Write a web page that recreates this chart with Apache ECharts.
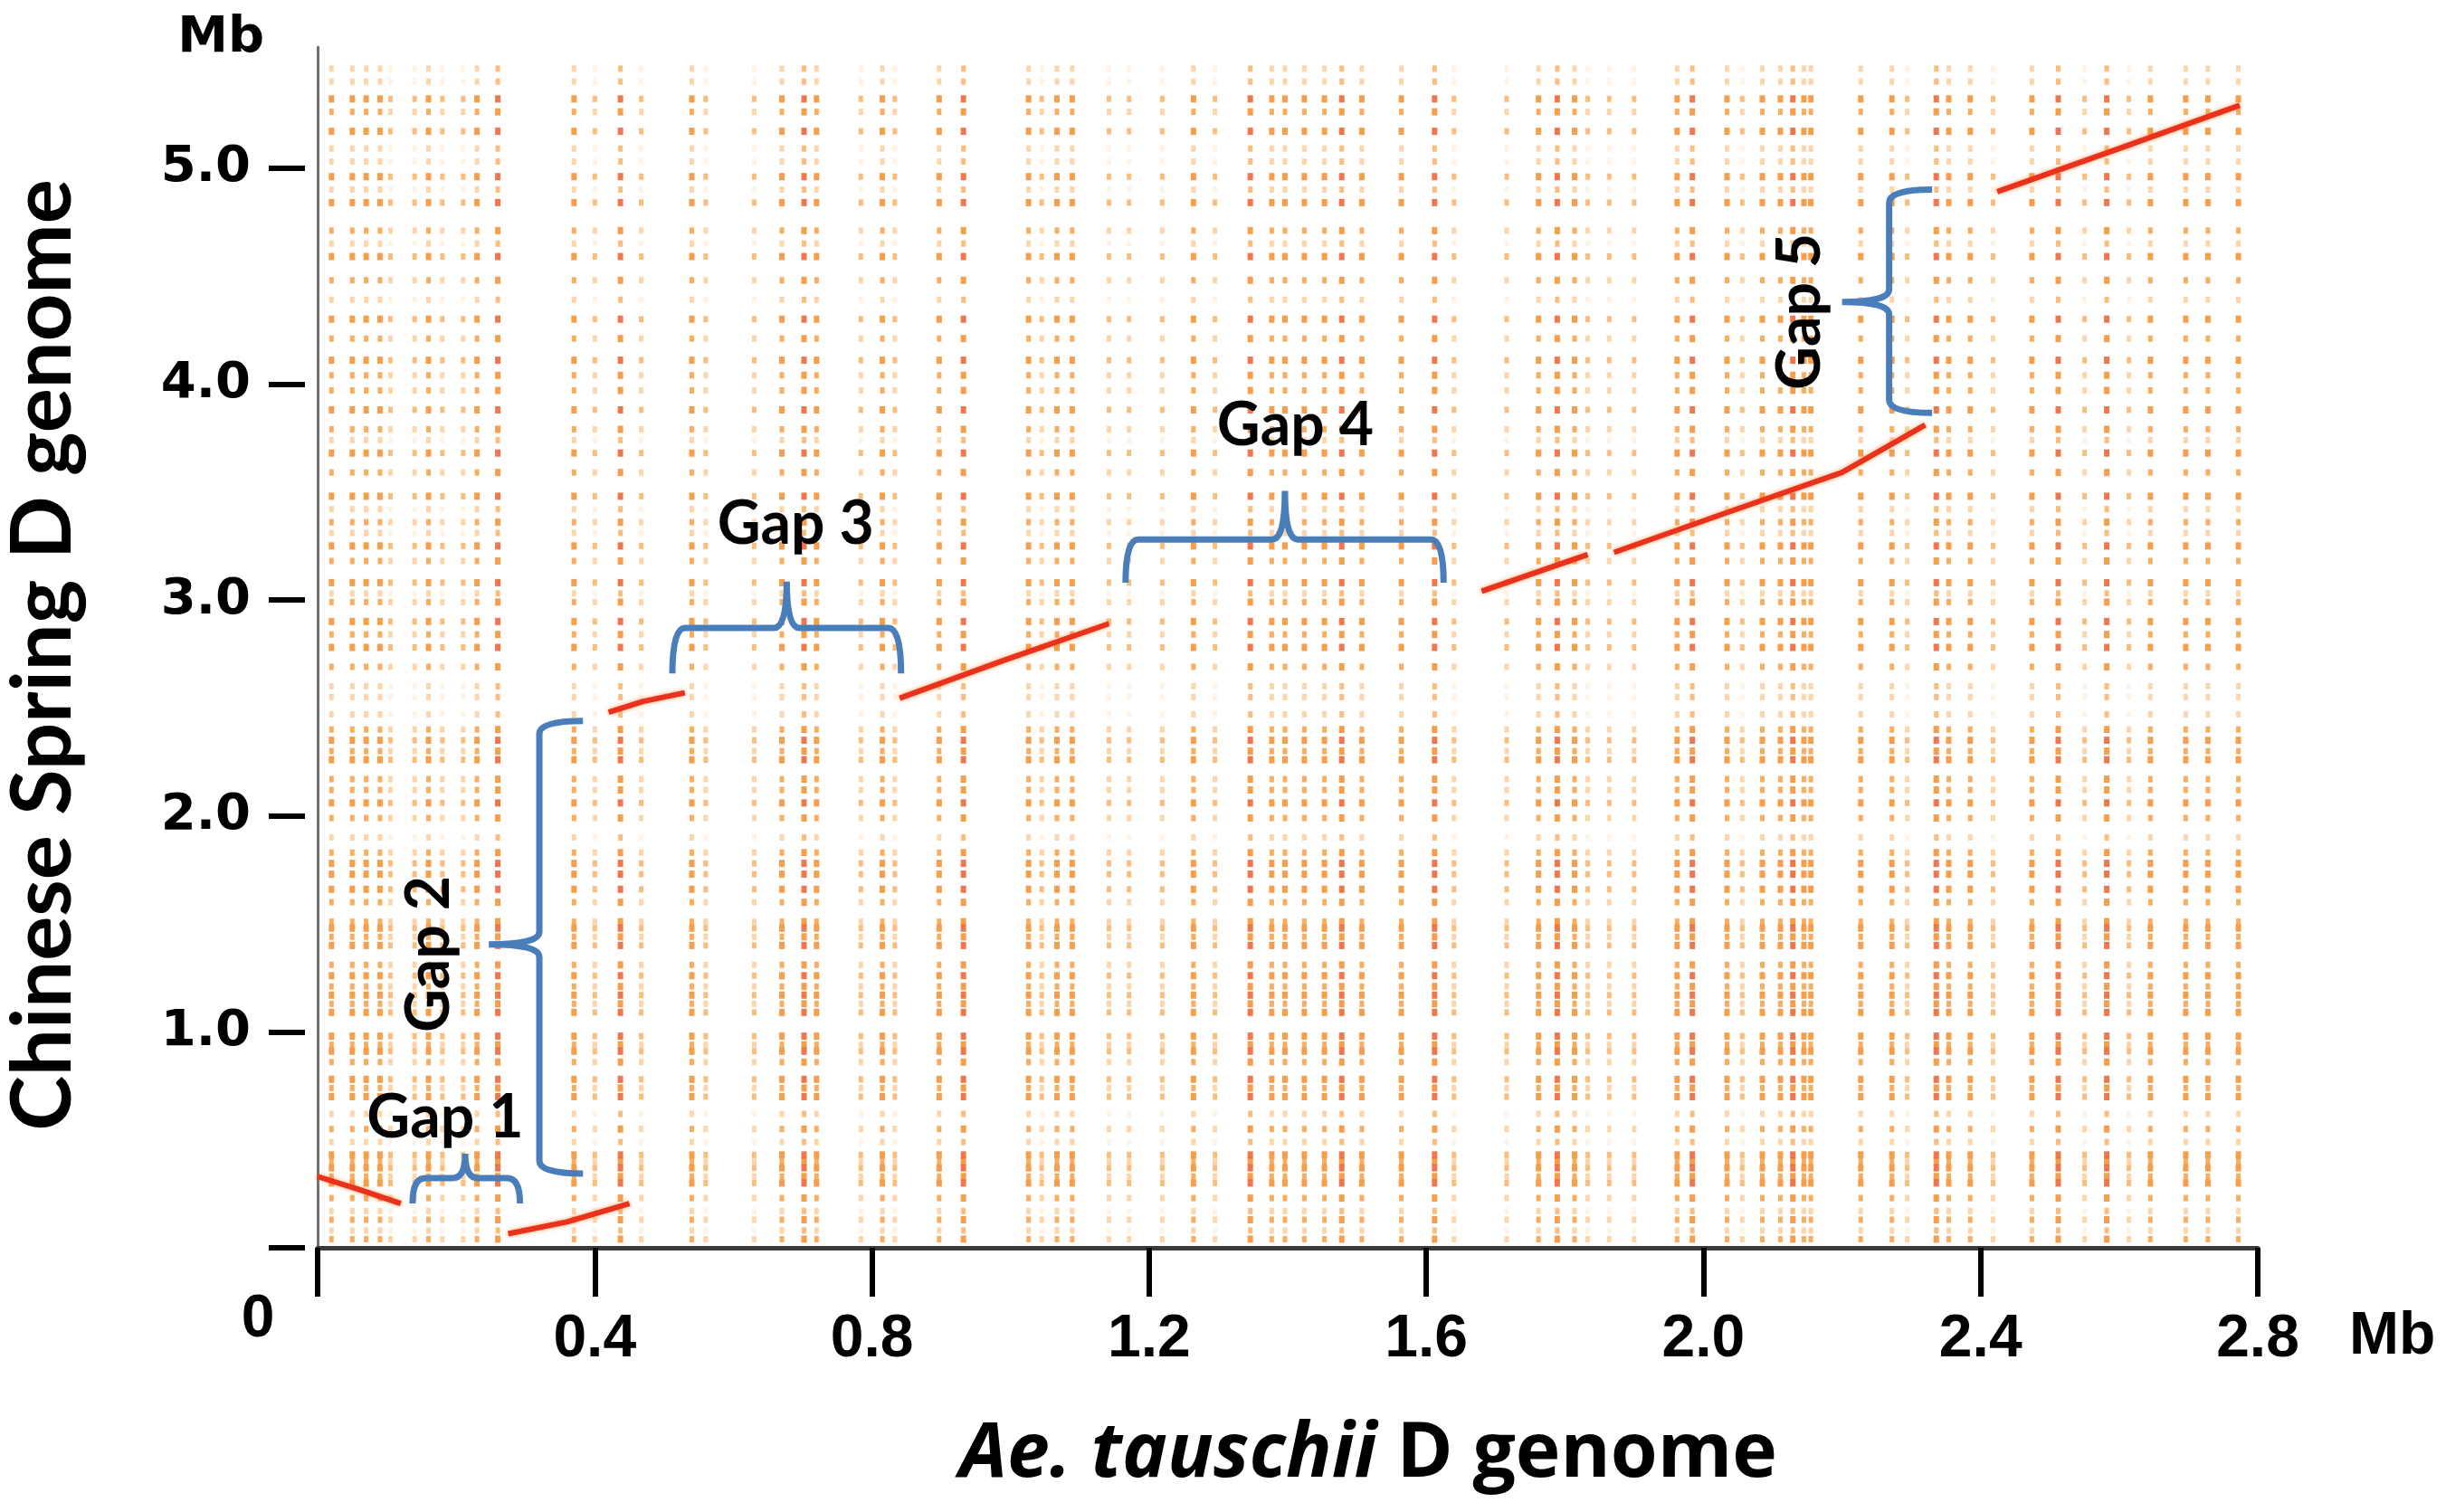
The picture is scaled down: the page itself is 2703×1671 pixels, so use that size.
<!DOCTYPE html>
<html>
<head>
<meta charset="utf-8">
<script src="https://cdn.jsdelivr.net/npm/echarts@6/dist/echarts.min.js"></script>
<style>
  html, body { margin: 0; padding: 0; background: #fff; }
  #chart { width: 2703px; height: 1671px; }
</style>
</head>
<body>
<div id="chart"></div>
<script>
// axis ticks (Mb)
const xTicks = [0, 0.4, 0.8, 1.2, 1.6, 2.0, 2.4, 2.8];
const xTickLabels = ['0', '0.4', '0.8', '1.2', '1.6', '2.0', '2.4', '2.8'];
const yTicks = [0, 1, 2, 3, 4, 5];
const yTickLabels = ['', '1.0', '2.0', '3.0', '4.0', '5.0'];

// repeat columns on the Ae. tauschii axis and their strength (1 weak .. 3 strong)
const colX = [0.02, 0.05, 0.07, 0.09, 0.105, 0.14, 0.16, 0.18, 0.21, 0.23,
  0.26, 0.37, 0.40, 0.437, 0.467, 0.54, 0.56, 0.63, 0.67, 0.702,
  0.72, 0.784, 0.815, 0.833, 0.897, 0.932, 1.026, 1.045, 1.067, 1.089,
  1.142, 1.171, 1.219, 1.264, 1.295, 1.346, 1.377, 1.396, 1.424, 1.453,
  1.478, 1.507, 1.564, 1.612, 1.640, 1.716, 1.762, 1.789, 1.814, 1.833,
  1.864, 1.90, 1.962, 1.984, 2.034, 2.056, 2.085, 2.111, 2.129, 2.145,
  2.155, 2.227, 2.272, 2.294, 2.336, 2.354, 2.385, 2.418, 2.474, 2.512,
  2.550, 2.582, 2.614, 2.645, 2.696, 2.728, 2.772];
const colW = [2, 2, 2, 2, 1, 1, 2, 1, 1, 2,
  3, 2, 1, 3, 1, 2, 1, 1, 2, 3,
  2, 1, 2, 1, 2, 3, 2, 1, 2, 2,
  1, 1, 1, 2, 1, 3, 2, 2, 2, 2,
  3, 2, 2, 3, 1, 1, 2, 3, 2, 1,
  1, 1, 2, 3, 2, 1, 2, 2, 3, 2,
  2, 2, 2, 1, 3, 2, 2, 1, 2, 3,
  1, 3, 1, 2, 2, 2, 2];

// repeat rows on the Chinese Spring axis and their strength
const rowY = [5.46, 5.40, 5.32, 5.26, 5.17, 5.09, 5.03, 4.96, 4.90, 4.84,
  4.71, 4.65, 4.59, 4.48, 4.39, 4.30, 4.21, 4.11, 4.04, 3.97,
  3.88, 3.79, 3.74, 3.68, 3.59, 3.48, 3.42, 3.36, 3.31, 3.25,
  3.18, 3.08, 3.03, 2.99, 2.90, 2.84, 2.78, 2.69, 2.60, 2.55,
  2.47, 2.40, 2.35, 2.30, 2.26, 2.17, 2.12, 2.06, 1.99, 1.90,
  1.83, 1.78, 1.73, 1.66, 1.60, 1.51, 1.48, 1.44, 1.40, 1.31,
  1.26, 1.21, 1.17, 1.13, 1.09, 0.98, 0.94, 0.91, 0.86, 0.78,
  0.74, 0.70, 0.62, 0.55, 0.49, 0.43, 0.40, 0.37, 0.33, 0.30,
  0.23, 0.17, 0.13, 0.08, 0.04];
const rowW = [1, 1, 3, 2, 3, 1, 1, 3, 1, 3,
  2, 1, 3, 2, 1, 3, 2, 3, 2, 2,
  3, 2, 1, 3, 2, 3, 1, 2, 1, 3,
  2, 3, 1, 2, 3, 2, 3, 2, 1, 1,
  1, 2, 3, 2, 3, 2, 2, 3, 2, 1,
  2, 3, 3, 3, 2, 2, 3, 2, 3, 2,
  3, 2, 3, 2, 3, 3, 2, 3, 2, 3,
  2, 3, 1, 2, 1, 3, 2, 3, 2, 3,
  2, 1, 2, 1, 2];

// collinear (syntenic) stretches, [Ae. tauschii Mb, Chinese Spring Mb]
const synteny = [
  [[0.0, 0.33], [0.06, 0.27], [0.12, 0.205]],
  [[0.275, 0.065], [0.36, 0.12], [0.45, 0.205]],
  [[0.42, 2.48], [0.47, 2.53], [0.53, 2.57]],
  [[0.84, 2.545], [0.99, 2.72], [1.142, 2.89]],
  [[1.68, 3.04], [1.833, 3.21]],
  [[1.871, 3.22], [2.03, 3.40], [2.20, 3.59], [2.32, 3.81]],
  [[2.424, 4.89], [2.60, 5.09], [2.774, 5.29]]
];

// gap braces: span along the brace, base line, arm ends, tip, tip position
const gapNames = ['Gap 1', 'Gap 2', 'Gap 3', 'Gap 4', 'Gap 5'];
const gapDir = ['h', 'v', 'h', 'h', 'v'];
const gapFrom = [0.137, 0.344, 0.512, 1.166, 3.866];
const gapTo = [0.292, 2.44, 0.842, 1.625, 4.90];
const gapBase = [0.323, 0.32, 2.87, 3.28, 2.268];
const gapArm = [0.205, 0.383, 2.66, 3.08, 2.33];
const gapTip = [0.436, 0.247, 3.085, 3.505, 2.20];
const gapMid = [0.213, 1.405, 0.677, 1.396, 4.38];
const gapLabelX = [0.184, 0.162, 0.69, 1.411, 2.14];
const gapLabelY = [0.60, 1.36, 3.35, 3.807, 4.335];

const dotColors = { 1: '#fff0e0', 2: '#fccb95', 3: '#f9ac5e', 4: '#f79838', 6: '#f4861e', 9: '#ec5422' };
const dotGroups = { 1: [], 2: [], 3: [], 4: [], 6: [], 9: [] };
colX.forEach((x, i) => {
  rowY.forEach((y, j) => {
    dotGroups[colW[i] * rowW[j]].push([x, y]);
  });
});

const chart = echarts.init(document.getElementById('chart'));

const dotSeries = Object.keys(dotGroups).map((k) => ({
  type: 'scatter',
  data: dotGroups[k],
  symbol: 'rect',
  symbolSize: k >= 6 ? [6, 8] : [5, 7],
  itemStyle: { color: dotColors[k] },
  silent: true,
  z: 1,
}));

const lineSeries = synteny.map((seg) => ({
  type: 'line',
  data: seg,
  showSymbol: false,
  lineStyle: { color: '#e8321e', width: 6, shadowColor: 'rgba(245,130,40,0.7)', shadowBlur: 5 },
  silent: true,
  z: 3,
}));

function renderBrace(params, api) {
  const i = params.dataIndex;
  const r = 14;
  let d;
  if (gapDir[i] === 'h') {
    const y0 = api.coord([0, gapBase[i]])[1];
    const ya = api.coord([0, gapArm[i]])[1];
    const yt = api.coord([0, gapTip[i]])[1];
    const x1 = api.coord([gapFrom[i], 0])[0];
    const x2 = api.coord([gapTo[i], 0])[0];
    const xm = api.coord([gapMid[i], 0])[0];
    d = `M${x1} ${ya} Q${x1} ${y0} ${x1 + r} ${y0} L${xm - r} ${y0} Q${xm} ${y0} ${xm} ${yt} ` +
      `Q${xm} ${y0} ${xm + r} ${y0} L${x2 - r} ${y0} Q${x2} ${y0} ${x2} ${ya}`;
  } else {
    const x0 = api.coord([gapBase[i], 0])[0];
    const xa = api.coord([gapArm[i], 0])[0];
    const xt = api.coord([gapTip[i], 0])[0];
    const y1 = api.coord([0, gapFrom[i]])[1];
    const y2 = api.coord([0, gapTo[i]])[1];
    const ym = api.coord([0, gapMid[i]])[1];
    d = `M${xa} ${y1} Q${x0} ${y1} ${x0} ${y1 - r} L${x0} ${ym + r} Q${x0} ${ym} ${xt} ${ym} ` +
      `Q${x0} ${ym} ${x0} ${ym - r} L${x0} ${y2 + r} Q${x0} ${y2} ${xa} ${y2}`;
  }
  const p = api.coord([gapLabelX[i], gapLabelY[i]]);
  return {
    type: 'group',
    children: [
      {
        type: 'path',
        shape: { pathData: d },
        style: { fill: 'none', stroke: '#4a7ebb', lineWidth: 7 },
      },
      {
        type: 'text',
        x: p[0],
        y: p[1],
        rotation: gapDir[i] === 'v' ? Math.PI / 2 : 0,
        style: {
          text: gapNames[i],
          font: 'bold 66px Lato',
          fill: '#000',
          align: 'center',
          verticalAlign: 'middle',
        },
      },
    ],
  };
}

const tickFont = { fontFamily: 'Liberation Sans', fontWeight: 'bold', fontSize: 66, color: '#000', lineHeight: 66 };

const option = {
  animation: false,
  backgroundColor: '#fff',
  grid: { left: 351, right: 208, top: 52, bottom: 292 },
  xAxis: {
    type: 'value',
    min: 0,
    max: 2.8,
    interval: 0.4,
    splitLine: { show: false },
    axisLine: { lineStyle: { color: '#3a3a3a', width: 5 } },
    axisTick: { length: 54, lineStyle: { color: '#000', width: 6 }, customValues: xTicks },
    axisLabel: {
      customValues: xTicks,
      margin: 47,
      ...tickFont,
      formatter: (v) => {
        const i = xTicks.findIndex((t) => Math.abs(t - v) < 1e-6);
        return (v === 0 ? '{z|' : '{n|') + xTickLabels[i] + '}';
      },
      rich: {
        z: { ...tickFont, padding: [0, 132, 0, 0] },
        n: { ...tickFont, padding: [44, 0, 0, 0] },
      },
    },
    name: 'Mb',
    nameLocation: 'end',
    nameGap: 101,
    nameTextStyle: { ...tickFont, verticalAlign: 'top', padding: [66, 0, 0, 0] },
  },
  yAxis: [
    {
      type: 'value',
      min: 0,
      max: 5.56,
      splitLine: { show: false },
      axisLine: { show: true, lineStyle: { color: '#707070', width: 3 } },
      axisTick: { show: false },
      axisLabel: { show: false },
      name: 'Mb',
      nameLocation: 'end',
      nameGap: 10,
      nameTextStyle: {
        fontFamily: 'DejaVu Sans', fontWeight: 'bold', fontSize: 56, color: '#000',
        align: 'right', verticalAlign: 'middle', padding: [0, 59, 0, 0],
      },
    },
    {
      type: 'value',
      min: 0,
      max: 5.56,
      offset: 14,
      position: 'left',
      splitLine: { show: false },
      axisLine: { show: false },
      axisTick: { show: true, length: 40, lineStyle: { color: '#000', width: 6 }, customValues: yTicks },
      axisLabel: {
        customValues: yTicks.slice(1),
        margin: 60,
        fontFamily: 'DejaVu Sans',
        fontWeight: 'bold',
        fontSize: 56,
        color: '#000',
        formatter: (v) => yTickLabels[yTicks.indexOf(Math.round(v))],
      },
    },
  ],
  graphic: [
    {
      type: 'text',
      x: 48,
      y: 724,
      rotation: Math.PI / 2,
      style: {
        text: 'Chinese Spring D genome',
        font: 'bold 92px Lato',
        fill: '#000',
        align: 'center',
        verticalAlign: 'middle',
      },
    },
    {
      type: 'text',
      x: 1512,
      y: 1608,
      style: {
        text: '{i|Ae. tauschii }{n|D genome}',
        align: 'center',
        verticalAlign: 'middle',
        rich: {
          i: { fontFamily: 'Open Sans', fontStyle: 'italic', fontWeight: 'bold', fontSize: 84, fill: '#000' },
          n: { fontFamily: 'Open Sans', fontWeight: 'bold', fontSize: 84, fill: '#000' },
        },
      },
    },
  ],
  series: [
    ...dotSeries,
    ...lineSeries,
    {
      type: 'custom',
      renderItem: renderBrace,
      data: gapNames.map((n, i) => [gapLabelX[i], gapLabelY[i]]),
      encode: { x: 0, y: 1 },
      clip: false,
      silent: true,
      z: 5,
    },
  ],
};

chart.setOption(option);
</script>
</body>
</html>
